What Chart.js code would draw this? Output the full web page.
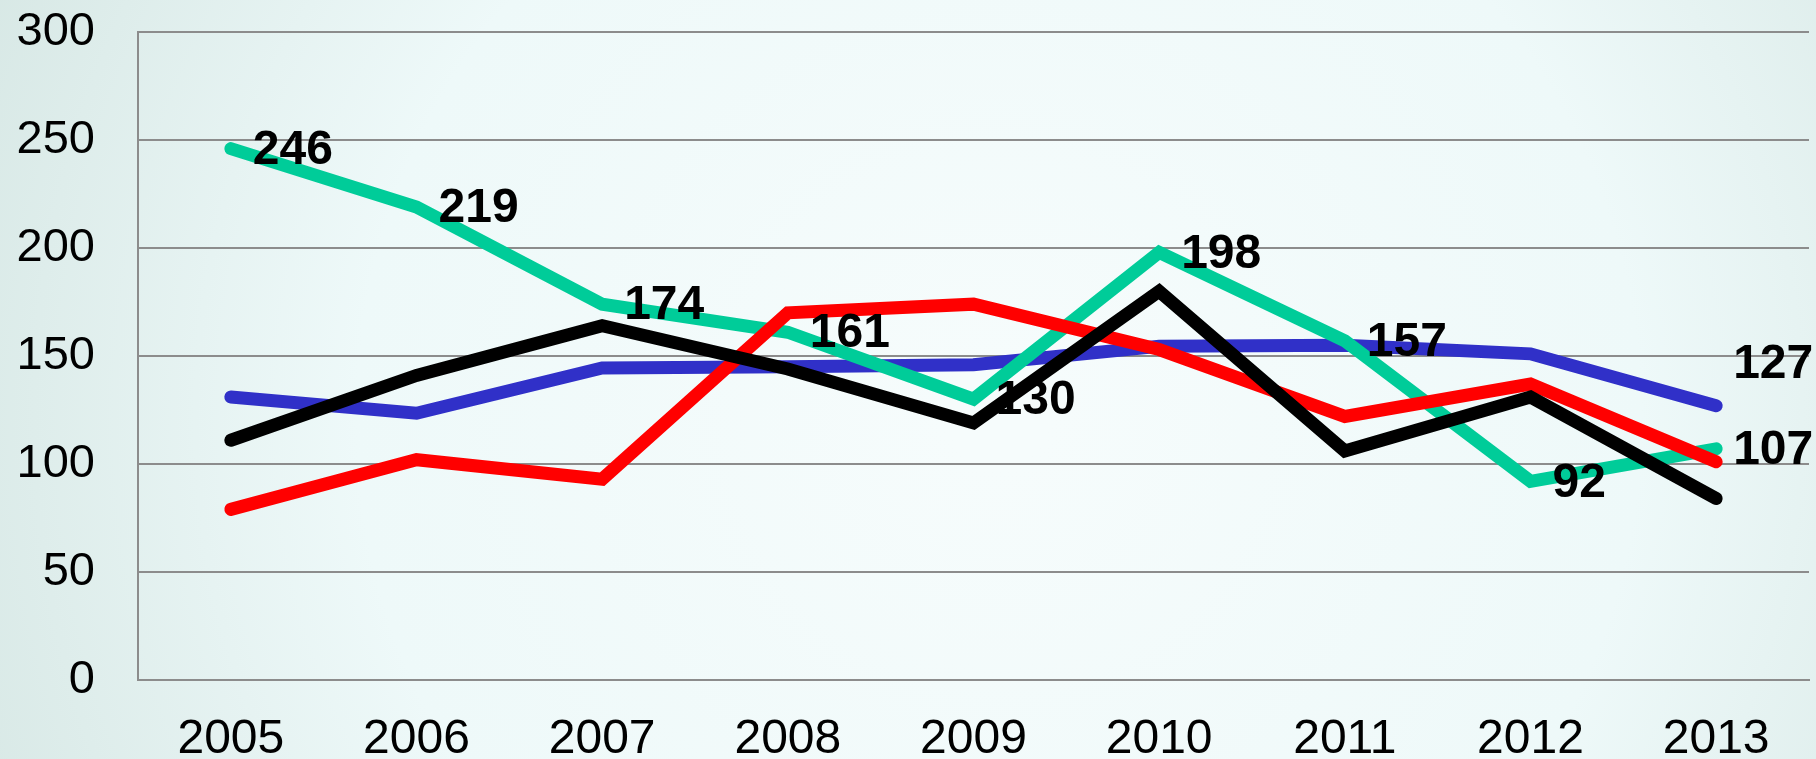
<!DOCTYPE html>
<html>
<head>
<meta charset="utf-8">
<script src="https://cdn.jsdelivr.net/npm/chart.js@4"></script>
<style>
html,body{margin:0;padding:0;background:#e6f2f1;}
#wrap{width:1816px;height:759px;position:relative;}
</style>
</head>
<body>
<div id="wrap"><canvas id="c" width="1816" height="759"></canvas></div>
<script>
const years = ['2005','2006','2007','2008','2009','2010','2011','2012','2013'];
const greenValues = [246, 219, 174, 161, 130, 198, 157, 92, 107];
const blueValues  = [131, 123.5, 144.5, 145, 146, 154.5, 155, 151, 127];
const redValues   = [79, 102, 93, 170, 174, 153, 122, 137, 101];
const blackValues = [111, 141, 164, 144, 119, 180, 106, 131, 84];
const greenLabelShown = [true, true, true, true, true, true, true, true, true];
const blueLabelShown  = [false, false, false, false, false, false, false, false, true];
const yTicks = [0, 50, 100, 150, 200, 250, 300];

const FONT = "'Liberation Sans', Arial, sans-serif";

const bgPlugin = {
  id: 'bg',
  beforeDraw(chart) {
    const ctx = chart.ctx;
    const w = chart.width, h = chart.height;
    ctx.save();
    const g = ctx.createRadialGradient(w * 0.55, h * 0.55, 50, w * 0.55, h * 0.55, w * 0.62);
    g.addColorStop(0, '#f6fcfc');
    g.addColorStop(0.55, '#eef9f9');
    g.addColorStop(1, '#d6e7e4');
    ctx.fillStyle = g;
    ctx.fillRect(0, 0, w, h);
    ctx.restore();
  }
};

const labelPlugin = {
  id: 'valueLabels',
  afterDatasetsDraw(chart) {
    const ctx = chart.ctx;
    ctx.save();
    ctx.font = 'bold 48px ' + FONT;
    ctx.fillStyle = '#000';
    ctx.textAlign = 'left';
    ctx.textBaseline = 'middle';
    chart.data.datasets.forEach((ds, di) => {
      if (!ds.showLabels) return;
      const meta = chart.getDatasetMeta(di);
      const last = meta.data.length - 1;
      meta.data.forEach((pt, i) => {
        if (!ds.showLabels[i]) return;
        const dy = ds.labelDy ? ds.labelDy : 0;
        const dx = i === last ? 17 : 22;
        ctx.fillText(String(ds.data[i]), pt.x + dx, pt.y + dy + 2);
      });
    });
    ctx.restore();
  }
};

const common = {
  borderWidth: 13,
  pointRadius: 0,
  pointHoverRadius: 0,
  tension: 0,
  fill: false,
  borderCapStyle: 'round',
  borderJoinStyle: 'miter'
};

new Chart(document.getElementById('c'), {
  type: 'line',
  data: {
    labels: years,
    datasets: [
      Object.assign({ label: 'A', data: blueValues, borderColor: '#3030c8', order: 4, showLabels: blueLabelShown, labelDy: -43 }, common),
      Object.assign({ label: 'B', data: greenValues, borderColor: '#00cc99', order: 3, showLabels: greenLabelShown }, common),
      Object.assign({ label: 'C', data: redValues, borderColor: '#ff0000', order: 2 }, common),
      Object.assign({ label: 'D', data: blackValues, borderColor: '#000000', order: 1 }, common)
    ]
  },
  options: {
    responsive: false,
    animation: false,
    devicePixelRatio: 1,
    layout: { padding: { top: 32, right: 7, left: 0, bottom: 0 } },
    plugins: { legend: { display: false }, tooltip: { enabled: false } },
    scales: {
      x: {
        type: 'category',
        offset: true,
        grid: { display: false, drawTicks: false },
        border: { display: true, color: '#8c8c8c', width: 2 },
        ticks: { color: '#000', font: { family: FONT, size: 48 }, padding: 31, maxRotation: 0, autoSkip: false },
        afterFit(scale) { scale.height = 79; scale.paddingLeft = 0; scale.paddingRight = 0; }
      },
      y: {
        min: 0, max: 300,
        afterBuildTicks(scale) { scale.ticks = yTicks.map(v => ({ value: v })); },
        grid: { color: '#8c8c8c', lineWidth: 2, drawTicks: false },
        border: { display: true, color: '#8c8c8c', width: 2 },
        ticks: { color: '#000', font: { family: FONT, size: 47 }, padding: 43 },
        afterFit(scale) { scale.width = 138; scale.paddingTop = 0; scale.paddingBottom = 0; }
      }
    }
  },
  plugins: [bgPlugin, labelPlugin]
});
</script>
</body>
</html>
